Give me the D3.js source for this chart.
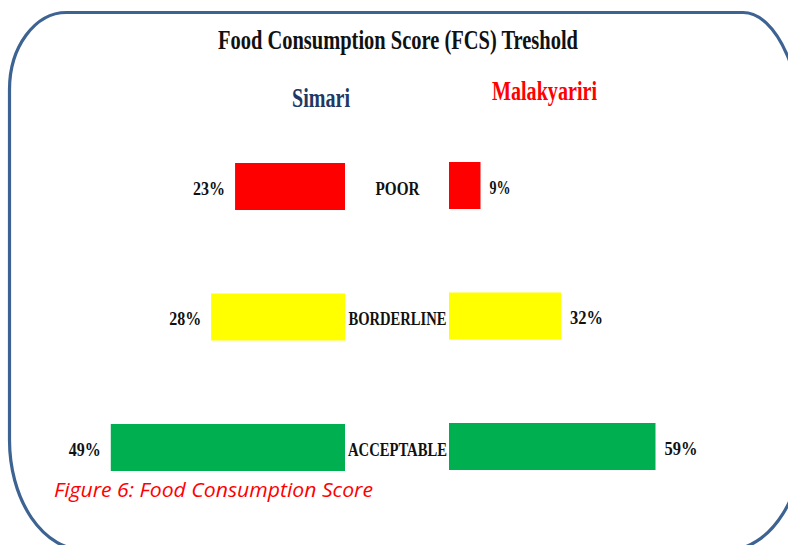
<!DOCTYPE html>
<html><head><meta charset="utf-8">
<script src="https://cdn.jsdelivr.net/npm/d3@7"></script>
<style>
html,body{margin:0;padding:0;background:#fff;overflow:hidden;}
svg{display:block;}
.lbl{font-family:"Liberation Serif",serif;font-weight:bold;fill:#111;}
</style></head>
<body>
<svg id="chart" width="788" height="545"></svg>
<script>
const title = "Food Consumption Score (FCS) Treshold";
const caption = "Figure 6: Food Consumption Score";
const categories = ["POOR", "BORDERLINE", "ACCEPTABLE"];
const regions = ["Simari", "Malakyariri"];
const simari = [23, 28, 49];
const malakyariri = [9, 32, 59];
const colors = ["#FF0000", "#FFFF00", "#00B050"];

const svg = d3.select("#chart");

// rounded frame (per-corner elliptical radii)
const L = 9.5, T = 12.5, R = 806, B = 550;
const tl = [57, 77], tr = [63, 148], br = [78, 125], bl = [75, 110];
const frame = [
  `M${L + tl[0]},${T}`,
  `L${R - tr[0]},${T}`,
  `A${tr[0]},${tr[1]} 0 0 1 ${R},${T + tr[1]}`,
  `L${R},${B - br[1]}`,
  `A${br[0]},${br[1]} 0 0 1 ${R - br[0]},${B}`,
  `L${L + bl[0]},${B}`,
  `A${bl[0]},${bl[1]} 0 0 1 ${L},${B - bl[1]}`,
  `L${L},${T + tl[1]}`,
  `A${tl[0]},${tl[1]} 0 0 1 ${L + tl[0]},${T}`,
  "Z"
].join(" ");
svg.append("path").attr("d", frame).attr("fill", "none")
  .attr("stroke", "#3D6392").attr("stroke-width", 3.2);

// title
svg.append("text").attr("class", "lbl").attr("x", 218).attr("y", 48.5)
  .attr("font-size", 27.5).attr("textLength", 360).attr("lengthAdjust", "spacingAndGlyphs")
  .text(title);

// region headers
svg.append("text").attr("class", "lbl").attr("x", 292).attr("y", 107)
  .attr("font-size", 27.5).attr("textLength", 58).attr("lengthAdjust", "spacingAndGlyphs")
  .style("fill", "#1F3864").text(regions[0]);
svg.append("text").attr("class", "lbl").attr("x", 492).attr("y", 100)
  .attr("font-size", 27.5).attr("textLength", 105).attr("lengthAdjust", "spacingAndGlyphs")
  .style("fill", "#FF0000").text(regions[1]);

// scales
const y = d3.scalePoint().domain(categories).range([186.5, 447.5]);
const barH = 47;
const xL = d3.scaleLinear().domain([0, 100]).range([345, 345 - 478]);
const xR = d3.scaleLinear().domain([0, 100]).range([449, 449 + 350]);

const valW = {"23": 32, "28": 32, "49": 32, "9": 21, "32": 33, "59": 33};
const catW = {"POOR": 44, "BORDERLINE": 98, "ACCEPTABLE": 99};

categories.forEach((c, i) => {
  const cy = y(c);
  // Simari bar (extends left)
  svg.append("rect")
    .attr("x", xL(simari[i])).attr("y", cy - barH / 2)
    .attr("width", xL(0) - xL(simari[i])).attr("height", barH)
    .attr("fill", colors[i]);
  svg.append("text").attr("class", "lbl")
    .attr("x", xL(simari[i]) - 10 - valW[simari[i]]).attr("y", cy + 8)
    .attr("font-size", 18.5).attr("textLength", valW[simari[i]]).attr("lengthAdjust", "spacingAndGlyphs")
    .text(simari[i] + "%");
  // Malakyariri bar (extends right)
  svg.append("rect")
    .attr("x", xR(0)).attr("y", cy - barH / 2 - 1)
    .attr("width", xR(malakyariri[i]) - xR(0)).attr("height", barH)
    .attr("fill", colors[i]);
  svg.append("text").attr("class", "lbl")
    .attr("x", xR(malakyariri[i]) + 9).attr("y", cy + 7)
    .attr("font-size", 18.5).attr("textLength", valW[malakyariri[i]]).attr("lengthAdjust", "spacingAndGlyphs")
    .text(malakyariri[i] + "%");
  // category label
  svg.append("text").attr("class", "lbl")
    .attr("x", 397.5 - catW[c] / 2).attr("y", cy + 8)
    .attr("font-size", 18.5).attr("textLength", catW[c]).attr("lengthAdjust", "spacingAndGlyphs")
    .text(c);
});

// caption
svg.append("text").attr("x", 54).attr("y", 497)
  .attr("font-family", "'Open Sans', sans-serif").attr("font-style", "italic")
  .attr("font-size", 20.5).attr("fill", "#FF0000")
  .attr("textLength", 319).attr("lengthAdjust", "spacingAndGlyphs")
  .text(caption);
</script>
</body></html>
